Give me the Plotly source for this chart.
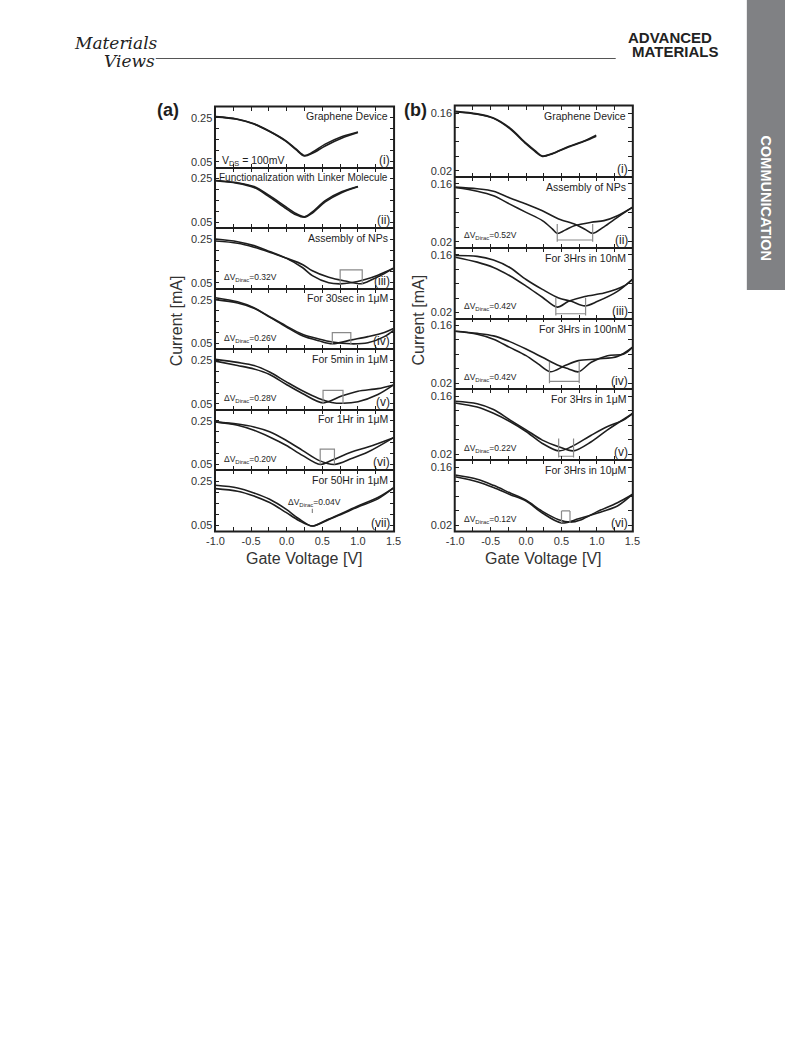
import plotly.graph_objects as go

W, H = 793, 1057

# ---------------- data: panel (a) ----------------
a_titles = ["Graphene Device", "Functionalization with Linker Molecule", "Assembly of NPs",
            "For 30sec in 1\u03bcM", "For 5min in 1\u03bcM", "For 1Hr in 1\u03bcM", "For 50Hr in 1\u03bcM"]
a_numerals = ["(i)", "(ii)", "(iii)", "(iv)", "(v)", "(vi)", "(vii)"]
a_dv = [None, None, 0.32, 0.26, 0.28, 0.20, 0.04]
a_yticks = [0.05, 0.25]

a1_x = [-1.0, -0.7, -0.46, -0.24, -0.01, 0.13, 0.25, 0.36, 0.54, 0.77, 1.0]
a1_y1 = [0.256, 0.245, 0.223, 0.189, 0.145, 0.108, 0.078, 0.093, 0.13, 0.164, 0.186]
a1_y2 = [0.255, 0.244, 0.222, 0.188, 0.143, 0.105, 0.076, 0.088, 0.122, 0.157, 0.183]

a2_x = [-1.0, -0.7, -0.46, -0.24, -0.01, 0.13, 0.25, 0.36, 0.54, 0.77, 1.0]
a2_y1 = [0.241, 0.231, 0.213, 0.171, 0.12, 0.09, 0.075, 0.097, 0.149, 0.189, 0.213]
a2_y2 = [0.240, 0.229, 0.209, 0.165, 0.113, 0.084, 0.073, 0.092, 0.143, 0.185, 0.212]

a3_x1 = [-1.0, -0.69, -0.46, -0.24, -0.01, 0.22, 0.36, 0.59, 0.74, 0.9, 1.1, 1.28, 1.5]
a3_y1 = [0.25, 0.238, 0.22, 0.193, 0.163, 0.12, 0.083, 0.05, 0.045, 0.05, 0.065, 0.085, 0.117]
a3_x2 = [-1.0, -0.69, -0.46, -0.24, -0.01, 0.22, 0.36, 0.59, 0.82, 1.05, 1.2, 1.37, 1.5]
a3_y2 = [0.241, 0.231, 0.213, 0.19, 0.163, 0.134, 0.105, 0.075, 0.058, 0.046, 0.065, 0.092, 0.117]

a4_x1 = [-1.0, -0.69, -0.46, -0.24, -0.01, 0.22, 0.45, 0.64, 0.91, 1.14, 1.37, 1.5]
a4_y1 = [0.25, 0.235, 0.211, 0.17, 0.126, 0.085, 0.062, 0.048, 0.066, 0.081, 0.1, 0.118]
a4_x2 = [-1.0, -0.69, -0.46, -0.24, -0.01, 0.22, 0.45, 0.64, 0.9, 1.14, 1.37, 1.5]
a4_y2 = [0.259, 0.24, 0.213, 0.172, 0.13, 0.092, 0.07, 0.056, 0.048, 0.053, 0.081, 0.11]

a5_x1 = [-1.0, -0.69, -0.46, -0.24, -0.01, 0.22, 0.51, 0.77, 1.0, 1.28, 1.5]
a5_y1 = [0.246, 0.226, 0.21, 0.185, 0.14, 0.098, 0.055, 0.086, 0.108, 0.12, 0.137]
a5_x2 = [-1.0, -0.69, -0.46, -0.24, -0.01, 0.22, 0.45, 0.63, 0.79, 1.0, 1.28, 1.5]
a5_y2 = [0.254, 0.24, 0.226, 0.196, 0.152, 0.11, 0.075, 0.057, 0.053, 0.06, 0.093, 0.137]

a6_x1 = [-1.0, -0.69, -0.46, -0.24, -0.01, 0.22, 0.47, 0.63, 0.91, 1.14, 1.5]
a6_y1 = [0.245, 0.23, 0.207, 0.176, 0.138, 0.092, 0.05, 0.069, 0.107, 0.13, 0.173]
a6_x2 = [-1.0, -0.69, -0.46, -0.24, -0.01, 0.22, 0.45, 0.67, 0.91, 1.14, 1.5]
a6_y2 = [0.245, 0.235, 0.222, 0.2, 0.161, 0.115, 0.069, 0.05, 0.077, 0.107, 0.173]

a7_x = [-1.0, -0.69, -0.46, -0.24, -0.01, 0.17, 0.36, 0.54, 0.77, 1.0, 1.28, 1.5]
a7_y1 = [0.232, 0.22, 0.197, 0.168, 0.123, 0.079, 0.046, 0.07, 0.103, 0.137, 0.176, 0.22]
a7_y2 = [0.217, 0.205, 0.183, 0.153, 0.108, 0.071, 0.046, 0.068, 0.1, 0.133, 0.17, 0.22]

a_br_x = [None, None, (0.75, 1.06), (0.64, 0.90), (0.51, 0.79), (0.47, 0.67), (0.36, 0.36)]
a_br_lo = [None, None, 0.045, 0.045, 0.05, 0.05, 0.105]
a_br_hi = [None, None, 0.109, 0.099, 0.112, 0.12, 0.125]

# ---------------- data: panel (b) ----------------
b_titles = ["Graphene Device", "Assembly of NPs", "For 3Hrs in 10nM", "For 3Hrs in 100nM",
            "For 3Hrs in 1\u03bcM", "For 3Hrs in 10\u03bcM"]
b_numerals = ["(i)", "(ii)", "(iii)", "(iv)", "(v)", "(vi)"]
b_dv = [None, 0.52, 0.42, 0.42, 0.22, 0.12]
b_yticks = [0.02, 0.16]

b1_x = [-1.0, -0.69, -0.46, -0.23, 0.0, 0.14, 0.23, 0.37, 0.6, 0.83, 0.99]
b1_y1 = [0.164, 0.158, 0.148, 0.124, 0.087, 0.067, 0.056, 0.062, 0.079, 0.093, 0.106]
b1_y2 = [0.163, 0.157, 0.147, 0.122, 0.085, 0.065, 0.055, 0.061, 0.078, 0.092, 0.104]

b2_x1 = [-1.0, -0.69, -0.46, -0.23, 0.0, 0.23, 0.46, 0.69, 0.83, 0.94, 1.1, 1.29, 1.5]
b2_y1 = [0.152, 0.148, 0.142, 0.126, 0.111, 0.095, 0.075, 0.062, 0.05, 0.04, 0.056, 0.079, 0.103]
b2_x2 = [-1.0, -0.69, -0.46, -0.23, 0.0, 0.23, 0.37, 0.44, 0.55, 0.69, 0.92, 1.1, 1.29, 1.5]
b2_y2 = [0.151, 0.142, 0.131, 0.111, 0.091, 0.071, 0.051, 0.04, 0.048, 0.059, 0.067, 0.071, 0.083, 0.103]

b3_x1 = [-1.0, -0.69, -0.46, -0.23, 0.0, 0.23, 0.46, 0.64, 0.83, 1.01, 1.29, 1.5]
b3_y1 = [0.158, 0.156, 0.147, 0.129, 0.1, 0.076, 0.055, 0.047, 0.036, 0.047, 0.071, 0.1]
b3_x2 = [-1.0, -0.69, -0.46, -0.23, 0.0, 0.23, 0.44, 0.6, 0.83, 1.1, 1.38, 1.5]
b3_y2 = [0.154, 0.142, 0.129, 0.109, 0.084, 0.057, 0.033, 0.047, 0.059, 0.067, 0.084, 0.1]

b4_x1 = [-1.0, -0.69, -0.46, -0.23, 0.0, 0.23, 0.46, 0.6, 0.74, 0.92, 1.15, 1.38, 1.5]
b4_y1 = [0.146, 0.141, 0.135, 0.121, 0.103, 0.083, 0.063, 0.055, 0.048, 0.071, 0.087, 0.091, 0.107]
b4_x2 = [-1.0, -0.69, -0.46, -0.23, 0.0, 0.17, 0.34, 0.55, 0.74, 1.01, 1.29, 1.5]
b4_y2 = [0.146, 0.139, 0.127, 0.107, 0.087, 0.067, 0.048, 0.063, 0.075, 0.079, 0.085, 0.107]

b5_x1 = [-1.0, -0.69, -0.46, -0.23, 0.0, 0.23, 0.46, 0.67, 0.92, 1.15, 1.5]
b5_y1 = [0.148, 0.142, 0.128, 0.103, 0.079, 0.054, 0.038, 0.028, 0.05, 0.079, 0.118]
b5_x2 = [-1.0, -0.69, -0.46, -0.23, 0.0, 0.23, 0.46, 0.64, 0.92, 1.15, 1.38, 1.5]
b5_y2 = [0.144, 0.134, 0.119, 0.099, 0.075, 0.046, 0.028, 0.038, 0.066, 0.087, 0.103, 0.118]

b6_x1 = [-1.0, -0.69, -0.46, -0.23, 0.0, 0.23, 0.46, 0.62, 0.78, 1.01, 1.29, 1.5]
b6_y1 = [0.141, 0.131, 0.116, 0.098, 0.08, 0.053, 0.033, 0.027, 0.033, 0.053, 0.074, 0.094]
b6_x2 = [-1.0, -0.69, -0.46, -0.23, 0.0, 0.23, 0.5, 0.74, 1.01, 1.29, 1.5]
b6_y2 = [0.137, 0.125, 0.111, 0.094, 0.078, 0.049, 0.025, 0.035, 0.049, 0.066, 0.094]

b_br_x = [None, (0.44, 0.94), (0.42, 0.84), (0.33, 0.75), (0.46, 0.67), (0.50, 0.62)]
b_br_lo = [None, 0.02, 0.013, 0.02, 0.012, 0.025]
b_br_hi = [None, 0.063, 0.056, 0.072, 0.058, 0.054]
b_br_bar = [None, 0.024, 0.017, 0.025, 0.015, 0.054]

x_tickvals = [-1.0, -0.75, -0.5, -0.25, 0.0, 0.25, 0.5, 0.75, 1.0, 1.25, 1.5]
x_ticktext = ["-1.0", "", "-0.5", "", "0.0", "", "0.5", "", "1.0", "", "1.5"]

a_curves = [(a1_x, a1_y1, a1_x, a1_y2), (a2_x, a2_y1, a2_x, a2_y2), (a3_x1, a3_y1, a3_x2, a3_y2),
            (a4_x1, a4_y1, a4_x2, a4_y2), (a5_x1, a5_y1, a5_x2, a5_y2), (a6_x1, a6_y1, a6_x2, a6_y2),
            (a7_x, a7_y1, a7_x, a7_y2)]
b_curves = [(b1_x, b1_y1, b1_x, b1_y2), (b2_x1, b2_y1, b2_x2, b2_y2), (b3_x1, b3_y1, b3_x2, b3_y2),
            (b4_x1, b4_y1, b4_x2, b4_y2), (b5_x1, b5_y1, b5_x2, b5_y2), (b6_x1, b6_y1, b6_x2, b6_y2)]

# ---------------- layout geometry ----------------
A_TOP, A_BOT, A_X0, A_X1 = 107, 531, 211, 393
B_TOP, B_BOT, B_X0, B_X1 = 106, 531, 456, 637
A_RANGE = [0.023, 0.30]
B_RANGE = [0.0055, 0.177]

def px(x):
    return x / W

def py(y):
    return 1 - y / H

FONT = "Liberation Sans, Arial, sans-serif"
INK = "#1e1e1e"
GRAY = "#8a8a8a"

fig = go.Figure()
layout = dict(width=W, height=H, margin=dict(l=0, r=0, t=0, b=0),
              paper_bgcolor="white", plot_bgcolor="white", showlegend=False)
annotations = []
shapes = []

def add_panel(n, top, bot, x0, x1, yrange, ytickvals, show_x):
    sfx = "" if n == 1 else str(n)
    yt = [ytickvals[0] + (ytickvals[1] - ytickvals[0]) * k / 4 for k in range(5)]
    ytt = ["%.2f" % ytickvals[0], "", "", "", "%.2f" % ytickvals[1]]
    layout["xaxis" + sfx] = dict(domain=[px(x0), px(x1)], range=[-1.0, 1.5], anchor="y" + sfx,
                                 showline=True, linecolor=INK, linewidth=0.9, mirror="allticks",
                                 ticks="inside", ticklen=4, tickwidth=1, tickcolor=INK,
                                 tickmode="array", tickvals=x_tickvals, ticktext=x_ticktext,
                                 showticklabels=show_x, showgrid=False, zeroline=False,
                                 tickfont=dict(family=FONT, size=11, color="#333"))
    layout["yaxis" + sfx] = dict(domain=[py(bot), py(top)], range=yrange, anchor="x" + sfx,
                                 showline=True, linecolor=INK, linewidth=0.9, mirror="allticks",
                                 ticks="inside", ticklen=4, tickwidth=1, tickcolor=INK,
                                 tickmode="array", tickvals=yt, ticktext=ytt,
                                 showgrid=False, zeroline=False,
                                 tickfont=dict(family=FONT, size=11, color="#333"))
    return "x" + sfx, "y" + sfx

def line_trace(xs, ys, xa, ya, color=INK, width=1.6, shape="spline"):
    return go.Scatter(x=xs, y=ys, xaxis=xa, yaxis=ya, mode="lines",
                      line=dict(color=color, width=width, shape=shape, smoothing=0.9),
                      hoverinfo="skip", showlegend=False)

def txt(text, x, y, size, xanchor="left", yanchor="middle", color=INK, bold=False, angle=0, family=FONT):
    if bold:
        text = "<b>" + text + "</b>"
    annotations.append(dict(text=text, x=px(x), y=py(y), xref="paper", yref="paper",
                            xanchor=xanchor, yanchor=yanchor, showarrow=False, textangle=angle,
                            font=dict(family=family, size=size, color=color)))

# panel (a)
na = len(a_titles)
ha = (A_BOT - A_TOP) / na
for i in range(na):
    top = A_TOP + i * ha
    bot = top + ha
    xa, ya = add_panel(i + 1, top, bot, A_X0, A_X1, A_RANGE, a_yticks, i == na - 1)
    x1s, y1s, x2s, y2s = a_curves[i]
    fig.add_trace(line_trace(x1s, y1s, xa, ya))
    fig.add_trace(line_trace(x2s, y2s, xa, ya))
    if a_br_x[i] is not None:
        bx0, bx1 = a_br_x[i]
        if bx0 == bx1:
            fig.add_trace(line_trace([bx0, bx0], [a_br_lo[i], a_br_hi[i]], xa, ya, GRAY, 1.2, "linear"))
        else:
            fig.add_trace(line_trace([bx0, bx0, bx1, bx1], [a_br_lo[i], a_br_hi[i], a_br_hi[i], a_br_lo[i]],
                                     xa, ya, GRAY, 1.2, "linear"))
    tsize = 10 if len(a_titles[i]) > 25 else 10.5
    txt(a_titles[i], A_X1 - 4, top + 9.5, tsize, xanchor="right")
    txt(a_numerals[i], A_X1 - 2, bot - 8, 12, xanchor="right")
    if a_dv[i] is not None:
        label = "\u0394V<sub>Dirac</sub>=%.2fV" % a_dv[i]
        if i == na - 1:
            txt(label, 312, bot - 29, 8.5, xanchor="center")
        else:
            txt(label, 218, bot - 11, 8.5)
txt("V<sub>DS</sub> = 100mV", 216, A_TOP + ha - 7, 10.5)

# panel (b)
nb = len(b_titles)
hb = (B_BOT - B_TOP) / nb
for j in range(nb):
    top = B_TOP + j * hb
    bot = top + hb
    xa, ya = add_panel(na + j + 1, top, bot, B_X0, B_X1, B_RANGE, b_yticks, j == nb - 1)
    x1s, y1s, x2s, y2s = b_curves[j]
    fig.add_trace(line_trace(x1s, y1s, xa, ya))
    fig.add_trace(line_trace(x2s, y2s, xa, ya))
    if b_br_x[j] is not None:
        bx0, bx1 = b_br_x[j]
        xs = [bx0, bx0, None, bx1, bx1, None, bx0, bx1]
        ys = [b_br_lo[j], b_br_hi[j], None, b_br_lo[j], b_br_hi[j], None, b_br_bar[j], b_br_bar[j]]
        fig.add_trace(line_trace(xs, ys, xa, ya, GRAY, 1.2, "linear"))
    txt(b_titles[j], B_X1 - 4, top + 10, 10.5, xanchor="right")
    txt(b_numerals[j], B_X1 - 2, bot - 8, 12, xanchor="right")
    if b_dv[j] is not None:
        txt("\u0394V<sub>Dirac</sub>=%.2fV" % b_dv[j], 463, bot - 12, 8.5)

# outer frames (thicker than the separators)
for (x0, x1, t, b) in [(A_X0, A_X1, A_TOP, A_BOT), (B_X0, B_X1, B_TOP, B_BOT)]:
    shapes.append(dict(type="rect", xref="paper", yref="paper", x0=px(x0 - 0.5), x1=px(x1 + 0.5),
                       y0=py(b + 0.5), y1=py(t - 0.5), line=dict(color=INK, width=2), layer="above"))

# panel labels and axis titles
txt("(a)", 149, 110, 18, bold=True)
txt("(b)", 402, 110, 18, bold=True)
txt("Current [mA]", 171, (A_TOP + A_BOT) / 2 + 2, 16, xanchor="center", angle=-90, color="#333")
txt("Current [mA]", 418, (B_TOP + B_BOT) / 2 + 2, 16, xanchor="center", angle=-90, color="#333")
txt("Gate Voltage [V]", (A_X0 + A_X1) / 2, 558, 16, xanchor="center", color="#333")
txt("Gate Voltage [V]", (B_X0 + B_X1) / 2, 558, 16, xanchor="center", color="#333")

# page header
txt("<i>Materials</i>", 64, 43, 17, family="DejaVu Serif, serif", color="#222")
txt("<i>Views</i>", 95, 61, 17, family="DejaVu Serif, serif", color="#222")
shapes.append(dict(type="line", xref="paper", yref="paper", x0=px(150), x1=px(620), y0=py(58.5), y1=py(58.5),
                   line=dict(color="#555", width=1)))
txt("ADVANCED", 675, 37.5, 15, xanchor="center", bold=True, color="#222")
txt("MATERIALS", 681, 51.5, 15, xanchor="center", bold=True, color="#222")
shapes.append(dict(type="rect", xref="paper", yref="paper", x0=px(754), x1=1, y0=py(290), y1=1,
                   fillcolor="#808184", line=dict(width=0), layer="below"))
txt("COMMUNICATION", 774, 198, 14.5, xanchor="center", bold=True, color="white", angle=90)

layout["annotations"] = annotations
layout["shapes"] = shapes
fig.update_layout(**layout)
fig.write_html("out.html", config={"displayModeBar": False},
               post_script="document.body.style.margin='0';document.documentElement.style.overflow='hidden';")
